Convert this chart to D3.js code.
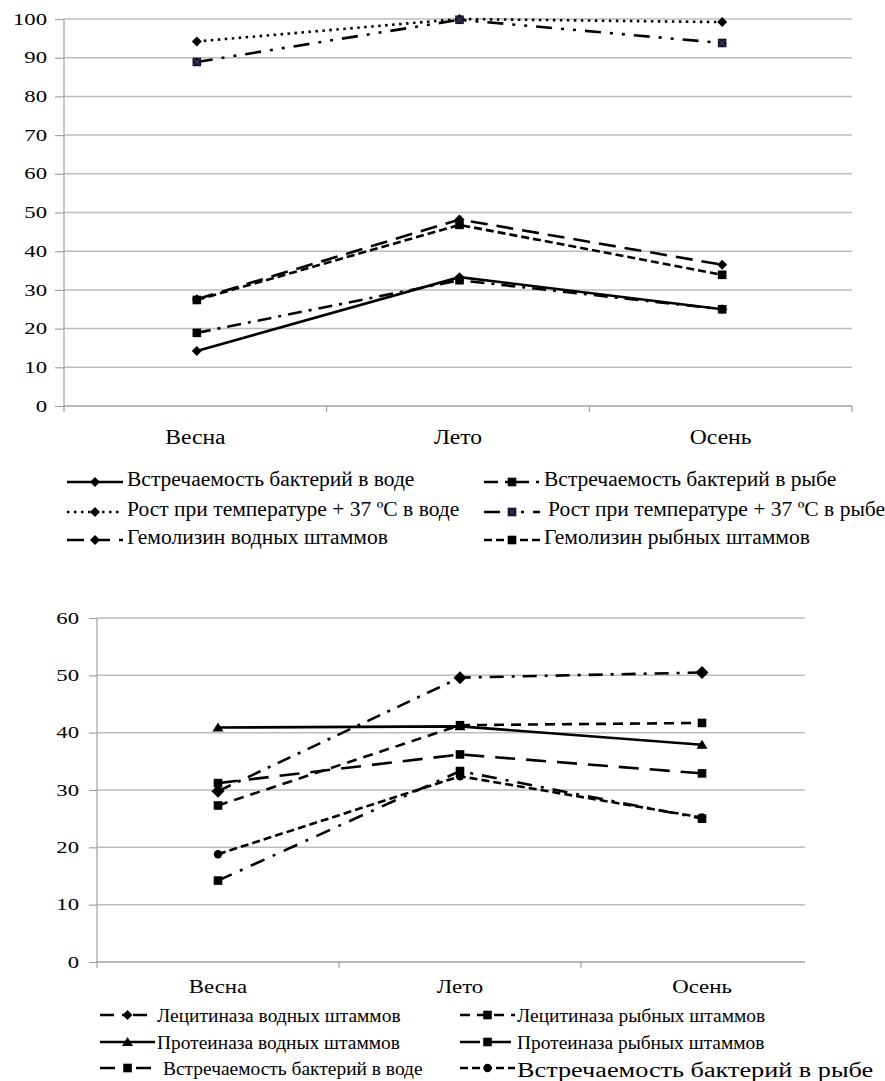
<!DOCTYPE html>
<html><head><meta charset="utf-8">
<script src="https://cdn.jsdelivr.net/npm/d3@7"></script>
</head>
<body style="margin:0;background:#fff">
<svg id="c" width="885" height="1081"></svg>
<script>
// ---------- DATA ----------
const seasons = ["Весна", "Лето", "Осень"];

// Chart 1
const c1Names = [
  "Встречаемость бактерий в воде",
  "Встречаемость бактерий в рыбе",
  "Рост при температуре + 37 ºС в воде",
  "Рост при температуре + 37 ºС в рыбе",
  "Гемолизин водных штаммов",
  "Гемолизин рыбных штаммов"
];
const c1WaterOccur = [14.2, 33.3, 25.0];
const c1FishOccur = [18.9, 32.5, 25.0];
const c1Growth37Water = [94.2, 100, 99.2];
const c1Growth37Fish = [88.9, 99.8, 93.8];
const c1HemolysinWater = [27.6, 48.2, 36.5];
const c1HemolysinFish = [27.4, 46.8, 33.9];
const c1Ticks = [0, 10, 20, 30, 40, 50, 60, 70, 80, 90, 100];

// Chart 2
const c2Names = [
  "Лецитиназа водных штаммов",
  "Лецитиназа рыбных штаммов",
  "Протеиназа водных штаммов",
  "Протеиназа рыбных штаммов",
  "Встречаемость бактерий в воде",
  "Встречаемость бактерий в рыбе"
];
const c2LecithinaseWater = [29.8, 49.6, 50.5];
const c2LecithinaseFish = [27.3, 41.3, 41.7];
const c2ProteinaseWater = [40.9, 41.1, 37.9];
const c2ProteinaseFish = [31.2, 36.2, 32.9];
const c2WaterOccur = [14.2, 33.3, 25.0];
const c2FishOccur = [18.8, 32.4, 25.2];
const c2Ticks = [0, 10, 20, 30, 40, 50, 60];

// ---------- STYLES ----------
const c1Styles = [
  {dash: null, marker: "diamond"},
  {dash: "14,7,3,7", marker: "square"},
  {dash: "2.5,4.5", marker: "diamond"},
  {dash: "16,9,3,9,3,9", marker: "squarex"},
  {dash: "17,9", marker: "diamond"},
  {dash: "8,4", marker: "square"}
];
const c2Styles = [
  {dash: "14,8,3,8", marker: "diamondL"},
  {dash: "10,7", marker: "square"},
  {dash: null, marker: "triangle"},
  {dash: "20,11", marker: "square"},
  {dash: "15,9,3,9", marker: "square"},
  {dash: "8,4", marker: "circle"}
];

const svg = d3.select("#c");
const gridCol = "#bcbcbc";
const FONT = "Liberation Serif";

function stretch(sel, sx) {
  sel.each(function () {
    const w = this.getComputedTextLength();
    this.setAttribute("textLength", (w * sx).toFixed(2));
    this.setAttribute("lengthAdjust", "spacingAndGlyphs");
  });
}

function markerPath(type) {
  switch (type) {
    case "diamond": return "M0,-5L5,0L0,5L-5,0Z";
    case "diamondL": return "M0,-6.5L6.5,0L0,6.5L-6.5,0Z";
    case "square": case "squarex": return "M-4.3,-4.3H4.3V4.3H-4.3Z";
    case "triangle": return "M0,-5L5.5,4H-5.5Z";
    case "circle": return d3.symbol(d3.symbolCircle, 55)();
  }
}
function marker(g, type, x, y) {
  g.append("path").attr("d", markerPath(type))
    .attr("transform", `translate(${x},${y})`)
    .attr("fill", type === "squarex" ? "#141428" : "#000");
  if (type === "squarex") {
    g.append("path").attr("d", "M-3,-3L3,3M3,-3L-3,3")
      .attr("transform", `translate(${x},${y})`)
      .attr("stroke", "#55557a").attr("stroke-width", 0.8);
  }
}

function drawChart(cfg) {
  const g = svg.append("g");
  const x = d3.scaleBand().domain(seasons).range([cfg.x0, cfg.x1]);
  const y = d3.scaleLinear().domain([0, cfg.ymax]).range([cfg.yb, cfg.yt]);

  g.selectAll(".grid").data(cfg.ticks.filter(d => d > 0)).join("line")
    .attr("x1", cfg.x0).attr("x2", cfg.gridEnd)
    .attr("y1", d => y(d)).attr("y2", d => y(d))
    .attr("stroke", gridCol).attr("stroke-width", 1.5);

  const ya = d3.axisLeft(y).tickValues(cfg.ticks).tickSize(cfg.tick).tickPadding(cfg.ypad);
  const yg = g.append("g").attr("transform", `translate(${cfg.x0},0)`).call(ya);
  yg.attr("font-family", FONT);
  yg.select(".domain").attr("stroke", "#a0a0a0").attr("stroke-width", 1.2).attr("d", `M0,${cfg.yt}V${cfg.yb}`);
  yg.selectAll(".tick line").attr("stroke", "#a0a0a0").attr("stroke-width", 1.2);
  const yt = yg.selectAll(".tick text").attr("font-family", FONT).attr("font-size", cfg.yfs).attr("fill", "#000");
  stretch(yt, cfg.ysx);

  const xa = d3.axisBottom(x).tickSize(0).tickFormat("");
  const xg = g.append("g").attr("transform", `translate(0,${cfg.yb})`).call(xa);
  xg.select(".domain").attr("stroke", "#a0a0a0").attr("stroke-width", 1.5)
    .attr("d", `M${cfg.x0},0H${cfg.gridEnd}`);
  const bounds = seasons.map(s => x(s)).concat([cfg.x1]);
  g.selectAll(".bt").data(bounds.filter(b => b <= cfg.gridEnd + 1)).join("line")
    .attr("x1", d => d).attr("x2", d => d)
    .attr("y1", cfg.yb).attr("y2", cfg.yb + 6)
    .attr("stroke", "#a0a0a0").attr("stroke-width", 1.2);
  const cl = g.selectAll(".cl").data(seasons).join("text")
    .attr("x", d => x(d) + x.bandwidth() / 2 + cfg.catDx)
    .attr("y", cfg.catY).attr("text-anchor", "middle")
    .attr("font-family", FONT).attr("font-size", cfg.catFs).text(d => d);
  stretch(cl, cfg.catSx);

  const line = d3.line().x((d, i) => x(seasons[i]) + x.bandwidth() / 2 + cfg.ptDx).y(d => y(d));
  cfg.series.forEach((vals, si) => {
    const st = cfg.styles[si];
    g.append("path").datum(vals).attr("d", line)
      .attr("fill", "none").attr("stroke", "#000").attr("stroke-width", 2.6)
      .attr("stroke-dasharray", st.dash);
  });
  cfg.series.forEach((vals, si) => {
    const st = cfg.styles[si];
    vals.forEach((v, i) => marker(g, st.marker, x(seasons[i]) + x.bandwidth() / 2 + cfg.ptDx, y(v)));
  });

  cfg.names.forEach((name, i) => {
    const col = i % 2, row = Math.floor(i / 2);
    const lx = cfg.legX[col], ly = cfg.legY[row];
    const st = cfg.styles[i];
    const ov = (cfg.legOverride && cfg.legOverride[i]) || {};
    g.append("line").attr("x1", lx).attr("x2", lx + cfg.legW).attr("y1", ly).attr("y2", ly)
      .attr("stroke", "#000").attr("stroke-width", 2.6)
      .attr("stroke-dasharray", st.dash);
    marker(g, st.marker === "diamondL" ? "diamond" : st.marker, lx + cfg.legW / 2, ly);
    const t = g.append("text")
      .attr("x", lx + cfg.legW + (ov.gap != null ? ov.gap : cfg.legGap))
      .attr("y", ly + (ov.base != null ? ov.base : cfg.legBase))
      .attr("font-family", FONT).attr("font-size", ov.fs || cfg.legFs).text(name);
    stretch(t, ov.sx || cfg.legSx);
  });
}

drawChart({
  x0: 64, x1: 852, gridEnd: 852, yt: 19, yb: 406, ymax: 100, ticks: c1Ticks,
  tick: 9, ypad: 8, yfs: 16, ysx: 1.42,
  catY: 444, catFs: 20, catSx: 1.18, catDx: 0, ptDx: 1.5,
  series: [c1WaterOccur, c1FishOccur, c1Growth37Water, c1Growth37Fish, c1HemolysinWater, c1HemolysinFish],
  styles: c1Styles, names: c1Names,
  legX: [67, 484], legY: [482, 512, 540], legW: 56, legGap: 4, legFs: 20.5, legSx: 1.05, legBase: 4,
  legOverride: {3: {gap: 8}}
});

drawChart({
  x0: 97, x1: 823, gridEnd: 805, yt: 618, yb: 962, ymax: 60, ticks: c2Ticks,
  tick: 8, ypad: 10, yfs: 16, ysx: 1.42,
  catY: 993, catFs: 19, catSx: 1.2, catDx: 0, ptDx: 0,
  series: [c2LecithinaseWater, c2LecithinaseFish, c2ProteinaseWater, c2ProteinaseFish, c2WaterOccur, c2FishOccur],
  styles: c2Styles, names: c2Names,
  legX: [100, 460], legY: [1015, 1042, 1068], legW: 55, legGap: 2, legFs: 18, legSx: 1.08, legBase: 7,
  legOverride: {4: {gap: 8}, 5: {fs: 20.5, sx: 1.28, base: 9}}
});
</script>
</body></html>
